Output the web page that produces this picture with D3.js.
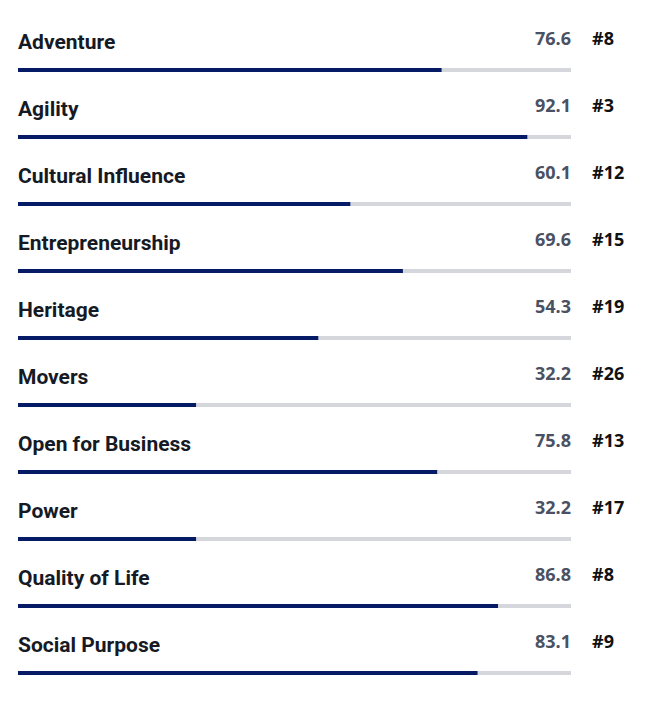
<!DOCTYPE html>
<html><head><meta charset="utf-8">
<script src="https://cdn.jsdelivr.net/npm/d3@7"></script>
<style>body{margin:0;background:#fff;}</style>
</head><body>
<svg id="c" width="669" height="715"></svg>
<script>
const categories = ["Adventure","Agility","Cultural Influence","Entrepreneurship","Heritage","Movers","Open for Business","Power","Quality of Life","Social Purpose"];
const scores = [76.6, 92.1, 60.1, 69.6, 54.3, 32.2, 75.8, 32.2, 86.8, 83.1];
const ranks = ["#8","#3","#12","#15","#19","#26","#13","#17","#8","#9"];
const domainMax = 100;

const svg = d3.select("#c");
const x = d3.scaleLinear().domain([0, domainMax]).range([18, 571]);
const y = d3.scaleBand().domain(categories).range([2, 672]);

const g = svg.selectAll("g.row").data(categories).join("g")
  .attr("class","row")
  .attr("transform", d => `translate(0,${y(d)})`);

g.append("rect").attr("x", x(0)).attr("y", 66).attr("width", x(domainMax)-x(0)).attr("height", 4).attr("fill", "#d5d7dc");
g.append("rect").attr("x", x(0)).attr("y", 66).attr("width", (d,i) => x(scores[i]) - x(0)).attr("height", 4).attr("fill", "#061b66");

g.append("text").attr("x", 18).attr("y", 47).text(d => d)
  .attr("font-family","Roboto").attr("font-weight","700").attr("font-size","21px").attr("fill","#151a24");
g.append("text").attr("x", 571).attr("y", 42.5).attr("text-anchor","end").text((d,i) => scores[i].toFixed(1))
  .attr("font-family","'Open Sans'").attr("font-weight","700").attr("font-size","18px").attr("fill","#4a5163");
g.append("text").attr("x", 592).attr("y", 42.5).text((d,i) => ranks[i])
  .attr("font-family","'Open Sans'").attr("font-weight","700").attr("font-size","18px").attr("fill","#111");
</script>
</body></html>
